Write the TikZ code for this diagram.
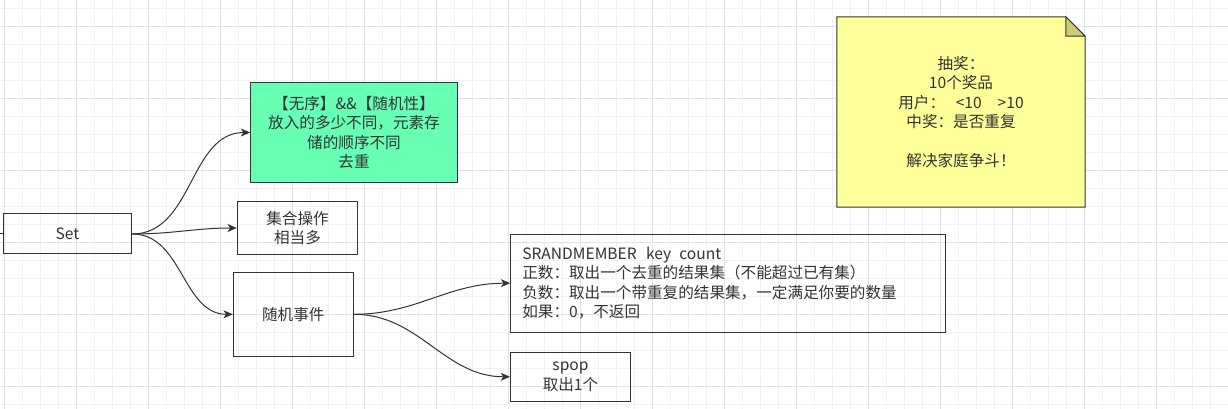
\documentclass[tikz,border=0pt]{standalone}
\usepackage{fontspec}
\setmainfont{Noto Sans CJK SC}
\usetikzlibrary{arrows.meta,backgrounds}
\definecolor{gridminor}{HTML}{F2F2F2}
\definecolor{gridmajor}{HTML}{E2E2E2}
\definecolor{inkgray}{HTML}{333333}
\definecolor{mint}{HTML}{66FFB3}
\definecolor{notefill}{HTML}{FFFF99}
\definecolor{notefold}{HTML}{CCCC77}

\begin{document}
\begin{tikzpicture}[x=0.75pt, y=-0.75pt,
    box/.style={draw=inkgray, line width=0.75pt, text=inkgray, inner sep=2pt,
      align=center, font=\fontsize{11.7}{14.6}\selectfont},
    link/.style={draw=inkgray, line width=0.75pt,
      -{Stealth[length=7pt, width=6pt, inset=2pt]}, out=0, in=180}]
    \useasboundingbox (0,0) rectangle (1228,409);

    % Set
    \coordinate (in) at (0,234);
    \node[box, minimum width=96.4pt, minimum height=30pt] (set) at (67.5,234) {Set};
    % Properties
    \node[box, fill=mint, minimum width=155pt, minimum height=74.7pt] (prop) at (354,132.5)
      {【无序】\&\&【随机性】\\放入的多少不同，元素存\\储的顺序不同\\去重};
    % Set Operations
    \node[box, minimum width=90.3pt, minimum height=39.5pt] (ops) at (297.5,228)
      {集合操作\\相当多};
    % Random Events
    \node[box, minimum width=90pt, minimum height=63pt] (rand) at (293.3,314.3) {随机事件};
    % SRANDMEMBER
    \node[box, align=left, inner xsep=8.7pt, text width=309pt, minimum height=73.7pt]
      (srand) at (728.3,283.2)
      {SRANDMEMBER\hspace{7pt}key\hspace{6pt}count\\
       正数：取出一个去重的结果集（不能超过已有集）\\
       负数：取出一个带重复的结果集，一定满足你要的数量\\
       如果：0，不返回};
    % SPOP
    \node[box, minimum width=90pt, minimum height=36.8pt] (spop) at (570.5,376.8)
      {spop\\取出1个};
    % Lottery Note
    \node[box, draw=none, minimum width=185.5pt, minimum height=142pt] (note) at (961,112)
      {抽奖：\\10个奖品\\用户：\hspace{8pt}<10\hspace{12pt}>10\\中奖：是否重复\\[14.6pt]解决家庭争斗！};

    % Edges
    \draw[draw=inkgray, line width=0.75pt] (in) -- (set.west);
    \draw[link] (set.east) to (prop.west);
    \draw[link] (set.east) to (ops.west);
    \draw[link] (set.east) to (rand.west);
    \draw[link] (rand.east) to (srand.west);
    \draw[link] (rand.east) to (spop.west);

    \begin{scope}[on background layer]
      % Grid
      \foreach \i in {0,...,68}
        \draw[gridminor, line width=0.75pt] ({4.7+18*\i},0) -- ++(0,409);
      \foreach \i in {0,...,22}
        \draw[gridminor, line width=0.75pt] (0,{8.3+18*\i}) -- ++(1228,0);
      \foreach \i in {0,...,17}
        \draw[gridmajor, line width=0.75pt] ({4.7+72*\i},0) -- ++(0,409);
      \foreach \i in {0,...,5}
        \draw[gridmajor, line width=0.75pt] (0,{26.3+72*\i}) -- ++(1228,0);
      % Note Body
      \filldraw[fill=notefill, draw=inkgray, line width=0.75pt]
        (note.north west) -- ([xshift=-14.5pt]note.north east)
        -- ([yshift=-14.5pt]note.north east) -- (note.south east)
        -- (note.south west) -- cycle;
      % Note Fold
      \filldraw[fill=notefold, draw=inkgray, line width=0.75pt]
        ([xshift=-14.5pt]note.north east) -- ([xshift=-14.5pt, yshift=-14.5pt]note.north east)
        -- ([yshift=-14.5pt]note.north east) -- cycle;
    \end{scope}
  \end{tikzpicture}
\end{document}
